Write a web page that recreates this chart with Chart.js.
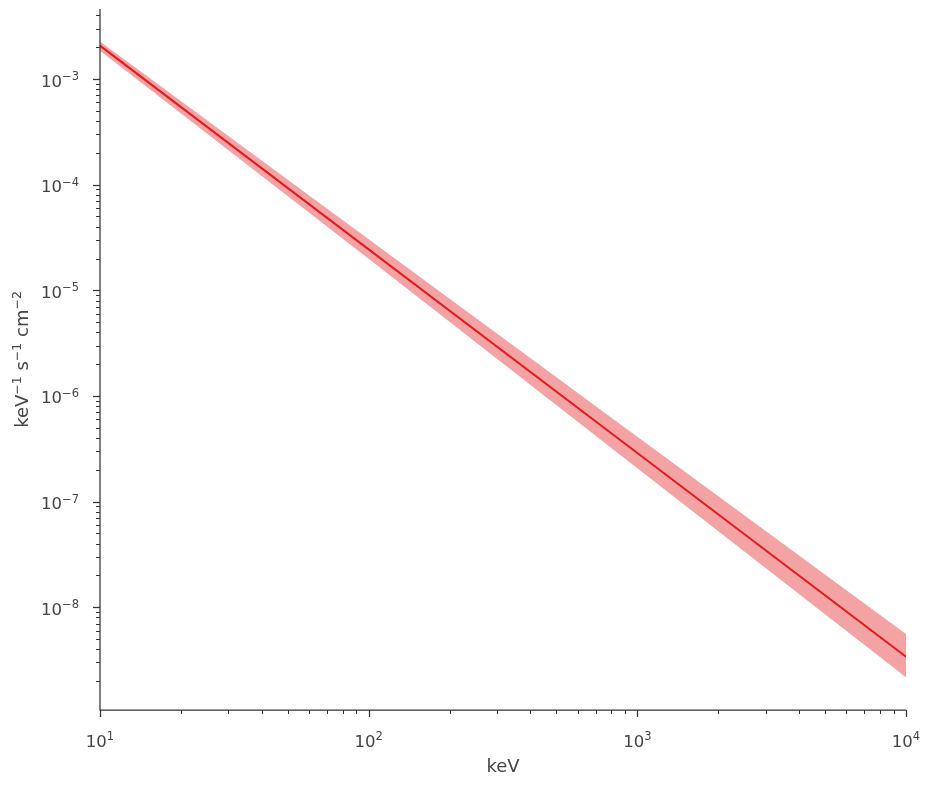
<!DOCTYPE html>
<html>
<head>
<meta charset="utf-8">
<script src="https://cdn.jsdelivr.net/npm/chart.js@4/dist/chart.umd.min.js"></script>
<style>
html,body{margin:0;padding:0;background:#fff;}
#wrap{width:931px;height:786px;position:relative;}
</style>
</head>
<body>
<div id="wrap"><canvas id="c"></canvas></div>
<script>
// Energies (keV)
const energy = [10, 100, 1000, 10000];
// Best-fit spectrum (keV^-1 s^-1 cm^-2)
const flux = [2.07e-3, 2.44e-5, 2.88e-7, 3.4e-9];
// Uncertainty band
const fluxUpper = [2.26e-3, 3.04e-5, 4.12e-7, 5.58e-9];
const fluxLower = [1.85e-3, 1.99e-5, 2.07e-7, 2.17e-9];
// Axis ticks: base and exponent text
const xMajor = [10, 100, 1000, 10000];
const xMajorExp = ['1', '2', '3', '4'];
const yMajor = [1e-8, 1e-7, 1e-6, 1e-5, 1e-4, 1e-3];
const yMajorExp = ['\u22128', '\u22127', '\u22126', '\u22125', '\u22124', '\u22123'];
const xRange = [10, 10000];
const yRange = [1.065e-9, 4.6e-3];
// Axis titles (text, superscript flag)
const xTitle = [['keV', false]];
const yTitle = [['keV', false], ['\u22121', true], [' s', false], ['\u22121', true], [' cm', false], ['\u22122', true]];

const axisColor = '#333333';
const textColor = '#444444';
const FONT = "'DejaVu Sans', sans-serif";
const TICK_SIZE = 16.5, SUP_SIZE = 11.5, TITLE_SIZE = 18, TITLE_SUP = 12.5;

function minorTicks(lo, hi) {
  const out = [];
  const e0 = Math.floor(Math.log10(lo)), e1 = Math.ceil(Math.log10(hi));
  for (let e = e0; e <= e1; e++) {
    for (let k = 1; k <= 9; k++) {
      const v = k * Math.pow(10, e);
      if (v >= lo * 0.9999 && v <= hi * 1.0001) out.push(v);
    }
  }
  return out;
}
function isMajor(v, majors) {
  return majors.some(m => Math.abs(v / m - 1) < 1e-6);
}
const mk = (xs, ys) => xs.map((x, i) => ({x: x, y: ys[i]}));

// draws runs of [text, isSup] starting at x (baseline y); align: 'left'|'center'|'right'
function drawRuns(ctx, runs, x, y, align, size, supSize, raise) {
  let w = 0;
  const widths = runs.map(([t, sup]) => {
    ctx.font = (sup ? supSize : size) + 'px ' + FONT;
    const m = ctx.measureText(t).width;
    w += m;
    return m;
  });
  let cx = align === 'center' ? x - w / 2 : (align === 'right' ? x - w : x);
  ctx.textAlign = 'left';
  ctx.textBaseline = 'alphabetic';
  runs.forEach(([t, sup], i) => {
    ctx.font = (sup ? supSize : size) + 'px ' + FONT;
    ctx.fillText(t, cx, sup ? y - raise : y);
    cx += widths[i];
  });
}

const axesPlugin = {
  id: 'mplAxes',
  afterDraw(chart) {
    const ctx = chart.ctx;
    const xs = chart.scales.x, ys = chart.scales.y;
    const ca = chart.chartArea;
    ctx.save();
    // spines
    ctx.strokeStyle = axisColor;
    ctx.lineWidth = 1.25;
    ctx.beginPath();
    ctx.moveTo(ca.left, ca.top);
    ctx.lineTo(ca.left, ca.bottom);
    ctx.lineTo(ca.right, ca.bottom);
    ctx.stroke();
    // ticks
    minorTicks(xRange[0], xRange[1]).forEach(v => {
      const maj = isMajor(v, xMajor);
      const px = Math.round(xs.getPixelForValue(v)) + 0.5;
      ctx.lineWidth = maj ? 1.25 : 1;
      ctx.beginPath();
      ctx.moveTo(px, ca.bottom);
      ctx.lineTo(px, ca.bottom + (maj ? 7 : 4));
      ctx.stroke();
    });
    minorTicks(yRange[0], yRange[1]).forEach(v => {
      const maj = isMajor(v, yMajor);
      const py = Math.round(ys.getPixelForValue(v)) + 0.5;
      ctx.lineWidth = maj ? 1.25 : 1;
      ctx.beginPath();
      ctx.moveTo(ca.left, py);
      ctx.lineTo(ca.left - (maj ? 7 : 4), py);
      ctx.stroke();
    });
    // tick labels
    ctx.fillStyle = textColor;
    xMajor.forEach((v, i) => {
      const px = xs.getPixelForValue(v);
      drawRuns(ctx, [['10', false], [xMajorExp[i], true]], px, ca.bottom + 36.5, 'center', TICK_SIZE, SUP_SIZE, 7);
    });
    yMajor.forEach((v, i) => {
      const py = ys.getPixelForValue(v);
      drawRuns(ctx, [['10', false], [yMajorExp[i], true]], ca.left - 21, py + 7.5, 'right', TICK_SIZE, SUP_SIZE, 6.5);
    });
    // axis titles
    drawRuns(ctx, xTitle, (ca.left + ca.right) / 2, ca.bottom + 61.5, 'center', TITLE_SIZE, TITLE_SUP, 7);
    ctx.save();
    ctx.translate(ca.left - 72, (ca.top + ca.bottom) / 2);
    ctx.rotate(-Math.PI / 2);
    drawRuns(ctx, yTitle, 0, 0, 'center', TITLE_SIZE, TITLE_SUP, 7.5);
    ctx.restore();
    ctx.restore();
  }
};

new Chart(document.getElementById('c'), {
  type: 'line',
  data: {
    datasets: [
      {
        label: 'upper',
        data: mk(energy, fluxUpper),
        borderWidth: 0,
        borderColor: 'rgba(0,0,0,0)',
        backgroundColor: 'rgba(228,26,28,0.4)',
        pointRadius: 0,
        fill: '+1',
        order: 2
      },
      {
        label: 'lower',
        data: mk(energy, fluxLower),
        borderWidth: 0,
        borderColor: 'rgba(0,0,0,0)',
        pointRadius: 0,
        fill: false,
        order: 2
      },
      {
        label: 'model',
        data: mk(energy, flux),
        borderColor: '#e41a1c',
        borderWidth: 2,
        pointRadius: 0,
        fill: false,
        order: 1
      }
    ]
  },
  options: {
    responsive: true,
    maintainAspectRatio: false,
    animation: false,
    devicePixelRatio: 1,
    layout: {padding: {top: 9, right: 25, left: 0, bottom: 0}},
    plugins: {legend: {display: false}, tooltip: {enabled: false}},
    elements: {line: {tension: 0}},
    scales: {
      x: {
        type: 'logarithmic',
        min: xRange[0], max: xRange[1],
        afterFit(scale) {
          scale.height = 76;
          scale.paddingLeft = 0; scale.paddingRight = 0;
          scale.paddingTop = 0; scale.paddingBottom = 0;
        },
        ticks: {display: false},
        grid: {display: false},
        border: {display: false},
        title: {display: false}
      },
      y: {
        type: 'logarithmic',
        min: yRange[0], max: yRange[1],
        afterFit(scale) {
          scale.width = 100;
          scale.paddingLeft = 0; scale.paddingRight = 0;
          scale.paddingTop = 0; scale.paddingBottom = 0;
        },
        ticks: {display: false},
        grid: {display: false},
        border: {display: false},
        title: {display: false}
      }
    }
  },
  plugins: [axesPlugin]
});
</script>
</body>
</html>
